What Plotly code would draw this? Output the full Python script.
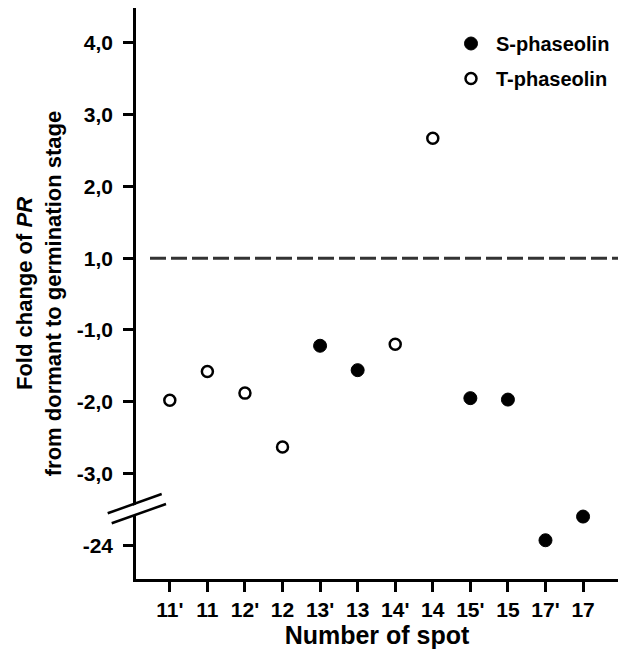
import plotly.graph_objects as go

# ---- data ----
spots = ["11'", "11", "12'", "12", "13'", "13", "14'", "14", "15'", "15", "17'", "17"]

s_spots = ["13'", "13", "15'", "15", "17'", "17"]
s_fold = [-1.22, -1.56, -1.95, -1.97, -23.93, -23.6]

t_spots = ["11'", "11", "12'", "12", "14'", "14"]
t_fold = [-1.98, -1.58, -1.88, -2.63, -1.20, 2.67]

ytick_fold = [4, 3, 2, 1, -1, -2, -3, -24]
ytick_text = ["4,0", "3,0", "2,0", "1,0", "-1,0", "-2,0", "-3,0", "-24"]

reference_fold = 1.0


# broken fold-change scale: no 0 between 1 and -1, break between -3 and -24
def axis_pos(v):
    if v >= 1:
        return v
    if v >= -3.5:
        return v + 1
    return -3 + (v + 24)


# page is shown with the default 8px body margin
OFF = 8
W, H = 628, 664
ML, MT = 136 - OFF, 8 - OFF
PLOT_R, PLOT_B = 618 - OFF, 579 - OFF
MR, MB = W - PLOT_R, H - PLOT_B
PW, PH = PLOT_R - ML, PLOT_B - MT


def px(x):
    return (x - OFF - ML) / PW


def py(y):
    return (PLOT_B - (y - OFF)) / PH


FONT = "Liberation Sans, Arial, Helvetica, sans-serif"

fig = go.Figure()
fig.add_trace(go.Scatter(
    x=s_spots, y=[axis_pos(v) for v in s_fold], mode="markers",
    name="S-phaseolin", legendgroup="s",
    marker=dict(symbol="circle", size=13, color="black",
                line=dict(color="black", width=1)),
))
fig.add_trace(go.Scatter(
    x=t_spots, y=[axis_pos(v) for v in t_fold], mode="markers",
    name="T-phaseolin", legendgroup="t",
    marker=dict(symbol="circle", size=11, color="white",
                line=dict(color="black", width=2.5)),
))

shapes = [
    # dashed reference line at fold change 1,0
    dict(type="line", xref="paper", yref="y", x0=px(150), x1=1,
         y0=axis_pos(reference_fold), y1=axis_pos(reference_fold),
         line=dict(color="#333333", width=3, dash="16px,5px"), layer="below"),
    # white gap in the y axis at the break
    dict(type="path", xref="paper", yref="paper",
         path=f"M {px(128)} {py(507.5)} L {px(144)} {py(501.8)} L {px(144)} {py(511.5)} L {px(128)} {py(517.2)} Z",
         fillcolor="white", line=dict(width=0), layer="above"),
    # break marks
    dict(type="line", xref="paper", yref="paper", x0=px(107.7), y0=py(513.3),
         x1=px(161.7), y1=py(494), line=dict(color="black", width=2.5), layer="above"),
    dict(type="line", xref="paper", yref="paper", x0=px(111.7), y0=py(523.3),
         x1=px(166), y1=py(504), line=dict(color="black", width=2.5), layer="above"),
]

fig.update_layout(
    width=W, height=H,
    margin=dict(l=ML, r=MR, t=MT, b=MB, pad=0, autoexpand=False),
    paper_bgcolor="white", plot_bgcolor="white",
    font=dict(family=FONT, color="black", size=19, weight="bold"),
    showlegend=True,
    legend=dict(x=px(446), y=py(24), xanchor="left", yanchor="top",
                font=dict(size=20, weight="bold"), itemwidth=40,
                traceorder="grouped", tracegroupgap=6,
                bgcolor="rgba(0,0,0,0)", borderwidth=0),
    shapes=shapes,
    xaxis=dict(
        type="category", categoryorder="array", categoryarray=spots,
        range=[-0.9, 11.93], showgrid=False, zeroline=False,
        showline=True, linecolor="black", linewidth=2.5,
        ticks="outside", ticklen=10, tickwidth=2.5, tickcolor="black",
        tickfont=dict(size=21, weight="bold"), ticklabelstandoff=0,
        title=dict(text="Number of spot", font=dict(size=25, weight="bold"), standoff=2),
        automargin=False,
    ),
    yaxis=dict(
        range=[-3.47, 4.486], showgrid=False, zeroline=False,
        showline=True, linecolor="black", linewidth=2.5,
        tickmode="array", tickvals=[axis_pos(v) for v in ytick_fold], ticktext=ytick_text,
        ticks="outside", ticklen=10, tickwidth=2.5, tickcolor="black",
        tickfont=dict(size=21, weight="bold"), ticklabelstandoff=6,
        title=dict(text="Fold change of <i>PR</i><br>from dormant to germination stage",
                   font=dict(size=22, weight="bold"), standoff=10),
        automargin=False,
    ),
)

fig.write_html("out.html")
